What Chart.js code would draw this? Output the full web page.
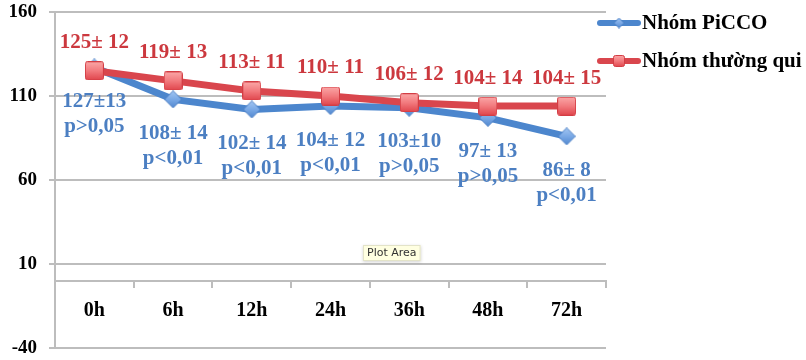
<!DOCTYPE html>
<html>
<head>
<meta charset="utf-8">
<script src="https://cdn.jsdelivr.net/npm/chart.js@4/dist/chart.umd.min.js"></script>
<style>
  html, body { margin: 0; padding: 0; background: #fff; }
  #wrap { width: 806px; height: 360px; position: relative; }
</style>
</head>
<body>
<div id="wrap"><canvas id="c" width="806" height="360"></canvas></div>
<script>
// Time points and the two groups' means
const categories = ['0h', '6h', '12h', '24h', '36h', '48h', '72h'];
const piccoValues = [127, 108, 102, 104, 103, 97, 86];
const standardValues = [125, 119, 113, 110, 106, 104, 104];

// Text shown next to each point
const piccoLabels = ['127±13', '108± 14', '102± 14', '104± 12', '103±10', '97± 13', '86± 8'];
const piccoPValues = ['p>0,05', 'p<0,01', 'p<0,01', 'p<0,01', 'p>0,05', 'p>0,05', 'p<0,01'];
const standardLabels = ['125± 12', '119± 13', '113± 11', '110± 11', '106± 12', '104± 14', '104± 15'];

const seriesNames = ['Nhóm PiCCO', 'Nhóm thường qui'];
const yTicks = [-40, 10, 60, 110, 160];

const SERIF = '"Liberation Serif", "Times New Roman", serif';
const BLUE = '#4C86CD';
const RED = '#D9464D';
const BLUE_TEXT = '#4C7FC2';
const RED_TEXT = '#CC383E';
const GRID = '#BDBDBD';

function squareMarker(size) {
  const c = document.createElement('canvas');
  c.width = size; c.height = size;
  const g = c.getContext('2d');
  const grad = g.createLinearGradient(0, 0, 0, size);
  grad.addColorStop(0, '#FBA9A9');
  grad.addColorStop(0.5, '#F27A7E');
  grad.addColorStop(1, '#E0444B');
  g.fillStyle = grad;
  g.strokeStyle = '#D33D44';
  g.lineWidth = 1;
  g.beginPath();
  g.roundRect(0.5, 0.5, size - 1, size - 1, 2);
  g.fill();
  g.stroke();
  return c;
}

function diamondMarker(size) {
  const c = document.createElement('canvas');
  c.width = size; c.height = size;
  const g = c.getContext('2d');
  const h = size / 2;
  const grad = g.createLinearGradient(0, 0, 0, size);
  grad.addColorStop(0, '#A6C8F3');
  grad.addColorStop(0.5, '#7AA9E6');
  grad.addColorStop(1, '#4F86CE');
  g.fillStyle = grad;
  g.strokeStyle = '#4A7FC4';
  g.lineWidth = 1;
  g.beginPath();
  g.moveTo(h, 0.5);
  g.lineTo(size - 0.5, h);
  g.lineTo(h, size - 0.5);
  g.lineTo(0.5, h);
  g.closePath();
  g.fill();
  g.stroke();
  return c;
}

const redSquare = squareMarker(19);
const blueDiamond = diamondMarker(18);
const redSquareSmall = squareMarker(12);
const blueDiamondSmall = diamondMarker(11);

// Value labels above (standard group) and below (PiCCO group) the points
const valueLabels = {
  id: 'valueLabels',
  afterDatasetsDraw(chart) {
    const ctx = chart.ctx;
    ctx.save();
    ctx.font = 'bold 21px ' + SERIF;
    ctx.textAlign = 'center';
    ctx.textBaseline = 'middle';
    const blueMeta = chart.getDatasetMeta(0);
    const redMeta = chart.getDatasetMeta(1);
    redMeta.data.forEach((pt, i) => {
      ctx.fillStyle = RED_TEXT;
      ctx.fillText(standardLabels[i], pt.x, pt.y - 28);
    });
    blueMeta.data.forEach((pt, i) => {
      ctx.fillStyle = BLUE_TEXT;
      ctx.fillText(piccoLabels[i], pt.x, pt.y + 34);
      ctx.fillText(piccoPValues[i], pt.x, pt.y + 59);
    });
    ctx.restore();
  }
};

// Legend at the right of the plot area
const sideLegend = {
  id: 'sideLegend',
  afterDraw(chart) {
    const ctx = chart.ctx;
    const x0 = chart.chartArea.right - 9;
    const rows = [
      { y: 23, color: BLUE, marker: blueDiamondSmall, text: seriesNames[0] },
      { y: 61, color: RED, marker: redSquareSmall, text: seriesNames[1] }
    ];
    ctx.save();
    rows.forEach(r => {
      ctx.strokeStyle = r.color;
      ctx.lineWidth = 6;
      ctx.lineCap = 'round';
      ctx.beginPath();
      ctx.moveTo(x0 + 3, r.y);
      ctx.lineTo(x0 + 41, r.y);
      ctx.stroke();
      ctx.drawImage(r.marker, x0 + 22 - r.marker.width / 2, r.y - r.marker.height / 2);
      ctx.fillStyle = '#000';
      ctx.font = 'bold 21px ' + SERIF;
      ctx.textAlign = 'left';
      ctx.textBaseline = 'middle';
      ctx.fillText(r.text, x0 + 45, r.y + 1);
    });

    // "Plot Area" hover hint
    const bx = chart.chartArea.left + 308, by = 245;
    ctx.font = '11px "DejaVu Sans", sans-serif';
    const tw = ctx.measureText('Plot Area').width;
    ctx.shadowColor = 'rgba(0,0,0,0.18)';
    ctx.shadowBlur = 3;
    ctx.shadowOffsetY = 1;
    ctx.fillStyle = '#FFFFE1';
    ctx.fillRect(bx, by, tw + 8, 16);
    ctx.shadowColor = 'transparent';
    ctx.strokeStyle = '#E3E3C8';
    ctx.lineWidth = 1;
    ctx.strokeRect(bx + 0.5, by + 0.5, tw + 7, 15);
    ctx.fillStyle = '#333';
    ctx.textAlign = 'left';
    ctx.textBaseline = 'middle';
    ctx.fillText('Plot Area', bx + 4, by + 8.5);
    ctx.restore();
  }
};

new Chart(document.getElementById('c'), {
  type: 'line',
  data: {
    labels: categories,
    datasets: [
      {
        label: seriesNames[0],
        data: piccoValues,
        borderColor: BLUE,
        borderWidth: 7,
        pointStyle: blueDiamond,
        order: 1,
        tension: 0
      },
      {
        label: seriesNames[1],
        data: standardValues,
        borderColor: RED,
        borderWidth: 7,
        pointStyle: redSquare,
        order: 0,
        tension: 0
      }
    ]
  },
  options: {
    responsive: false,
    animation: false,
    layout: { padding: { left: 0, right: 200, top: 0, bottom: 0 } },
    plugins: { legend: { display: false }, tooltip: { enabled: false } },
    scales: {
      x: {
        type: 'category',
        position: { y: 0 },
        offset: true,
        grid: { offset: true, drawOnChartArea: false, drawTicks: true, tickLength: 6, color: GRID, lineWidth: 2 },
        border: { display: true, color: GRID, width: 2 },
        ticks: { color: '#000', font: { family: SERIF, size: 20, weight: 'bold' }, padding: 12, maxRotation: 0 }
      },
      y: {
        min: -40,
        max: 160,
        afterBuildTicks(scale) { scale.ticks = yTicks.map(v => ({ value: v })); },
        afterFit(scale) { scale.width = 55; scale.paddingTop = 12; scale.paddingBottom = 12; },
        grid: { color: GRID, lineWidth: 2, drawTicks: true, tickLength: 6 },
        border: { display: true, color: GRID, width: 2 },
        ticks: { color: '#000', font: { family: SERIF, size: 19, weight: 'bold' }, padding: 12 }
      }
    }
  },
  plugins: [valueLabels, sideLegend]
});
</script>
</body>
</html>
